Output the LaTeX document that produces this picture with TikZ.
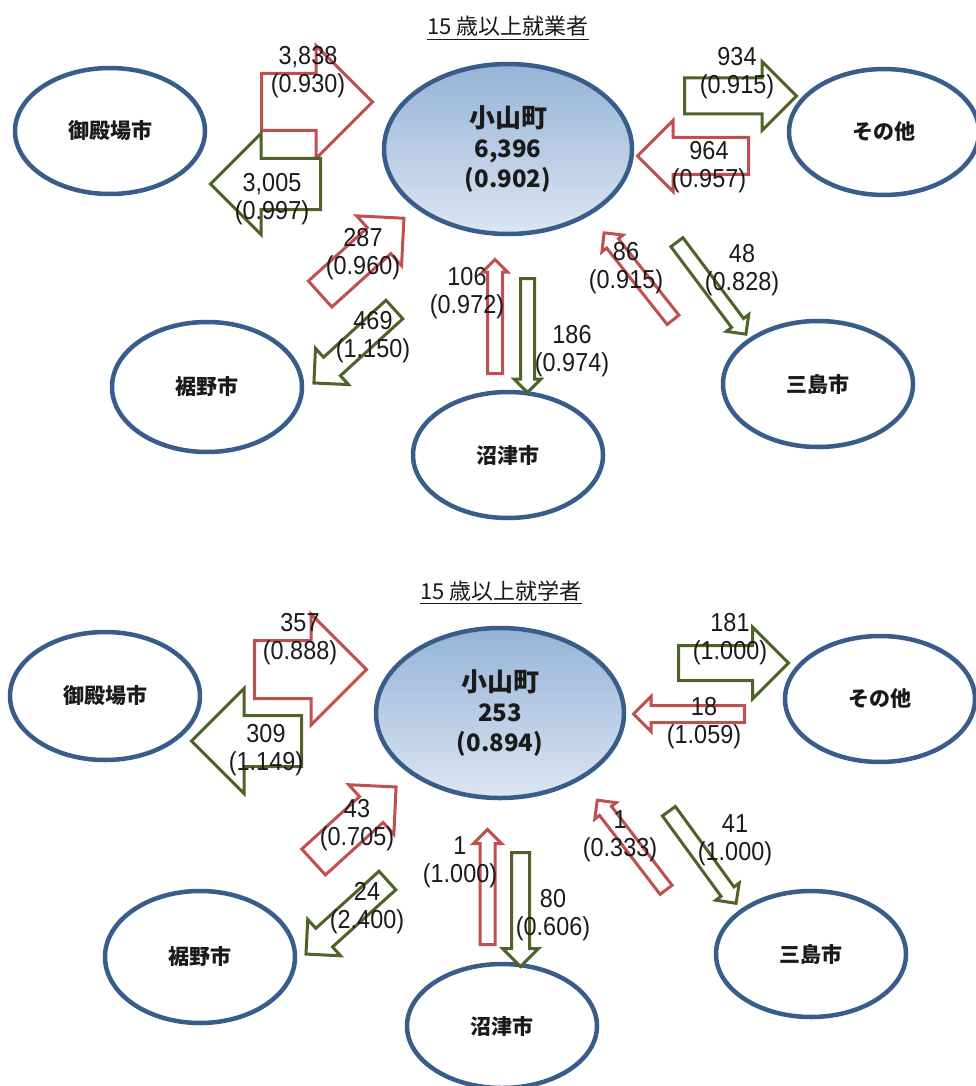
\documentclass[tikz,border=0pt]{standalone}
\usepackage{fontspec}
\usetikzlibrary{shapes.geometric,shapes.arrows}
\newfontfamily\jp{Noto Sans CJK JP}
\newfontfamily\numf{Liberation Sans}[FakeStretch=0.9]
\definecolor{ered}{HTML}{C0504D}
\definecolor{egreen}{HTML}{4F6228}
\definecolor{eblue}{HTML}{385D8A}
\definecolor{etop}{HTML}{95B3D7}
\definecolor{ebot}{HTML}{DCE6F2}
\definecolor{txt}{HTML}{1A1A1A}
\tikzset{
  city/.style={ellipse, draw=eblue, line width=4.5pt, fill=white, minimum width=190pt, minimum height=126pt, inner sep=0pt, font=\jp\bfseries\fontsize{21}{24}\selectfont, text=txt},
  hub/.style={ellipse, draw=eblue, line width=4.5pt, top color=etop, bottom color=ebot, minimum width=248pt, minimum height=170pt, inner sep=0pt, align=center, text=txt, font=\jp\bfseries\fontsize{24}{30}\selectfont},
  flow/.style={single arrow, fill=white, line width=3pt, inner xsep=0pt, anchor=tail, single arrow tip angle=90},
  inflow/.style={flow, draw=ered},
  outflow/.style={flow, draw=egreen},
  dims/.style n args={3}{minimum height=#1pt, single arrow head extend={(#2-#3)*1pt}, inner ysep=#3pt, minimum width={2*#2*1pt}},
  num/.style={align=center, font=\numf\fontsize{26}{28.5}\selectfont, text=txt, inner sep=0pt},
  ttl/.style={font=\jp\fontsize{22}{24}\selectfont, text=txt, inner xsep=0pt, anchor=base},
  uline/.style={line width=1.5pt, draw=txt}
}
\newcommand{\hubline}[1]{{\fontsize{26}{30}\selectfont #1}}
\begin{document}
\begin{tikzpicture}[x=1pt,y=-1pt]
\useasboundingbox[fill=white] (0,0) rectangle (976,1086);

% ===== upper diagram =====
\node[ttl] (t1) at (508,35) {15 歳以上就業者};
\draw[uline] ([yshift=-4.5pt]t1.base west) -- ([yshift=-4.5pt]t1.base east);

\node[city] (g1) at (110,131) {御殿場市};
\node[city] (s1) at (884,132) {その他};
\node[city, minimum height=130pt] (su1) at (207,387) {裾野市};
\node[city] (n1) at (508,455) {沼津市};
\node[city] (m1) at (818,384) {三島市};
\node[hub] (o1) at (508,149) {\hubline{小山町}\\6,396\\(0.902)};

% dims = {length}{head half width}{shaft half width}
\node[inflow, dims={111}{55}{27}] (a1) at (260,102) {};
\node[outflow, dims={110}{49}{24}, rotate=180] (a2) at (322,184) {};
\node[outflow, dims={112}{33}{16.5}] (a3) at (683,96) {};
\node[inflow, dims={111}{34}{17}, rotate=180] (a4) at (750,156) {};
\node[inflow, dims={113}{32}{16}, rotate=42.1] (a5) at (319,295) {};
\node[outflow, dims={109}{23}{11}, rotate=-137.6] (a6) at (395.5,308.5) {};
\node[inflow, dims={114}{11}{6}, rotate=90] (a7) at (495,375) {};
\node[outflow, dims={114}{12}{5.5}, rotate=-90] (a8) at (527.5,277) {};
\node[inflow, dims={111}{12}{6}, rotate=128.4] (a9) at (674,321) {};
\node[outflow, dims={115}{12.5}{6}, rotate=-53.1] (a10) at (676,241) {};

\node[num] (l1) at (308,72) {3,838\\(0.930)};
\node[num] (l2) at (272,199) {3,005\\(0.997)};
\node[num] (l3) at (737,73) {934\\(0.915)};
\node[num] (l4) at (709,167) {964\\(0.957)};
\node[num] (l5) at (363,254) {287\\(0.960)};
\node[num] (l6) at (373,337) {469\\(1.150)};
\node[num] (l7) at (467,293) {106\\(0.972)};
\node[num] (l8) at (572,351) {186\\(0.974)};
\node[num] (l9) at (626,268) {86\\(0.915)};
\node[num] (l10) at (742,270) {48\\(0.828)};

% ===== lower diagram =====
\node[ttl] (t2) at (501,599) {15 歳以上就学者};
\draw[uline] ([yshift=-4.5pt]t2.base west) -- ([yshift=-4.5pt]t2.base east);

\node[city, minimum height=128pt] (g2) at (105,696) {御殿場市};
\node[city] (s2) at (880,699) {その他};
\node[city, minimum height=132pt] (su2) at (200,957) {裾野市};
\node[city, minimum height=124pt] (n2) at (502,1026) {沼津市};
\node[city] (m2) at (811,954) {三島市};
\node[hub] (o2) at (500,713) {\hubline{小山町}\\253\\(0.894)};

\node[inflow, dims={112}{54}{27.5}] (b1) at (253,669.5) {};
\node[outflow, dims={110}{51}{24}, rotate=180] (b2) at (303,741) {};
\node[outflow, dims={110}{34.5}{16}] (b3) at (677,663) {};
\node[inflow, dims={111}{16}{7}, rotate=180] (b4) at (746,714) {};
\node[inflow, dims={111.5}{32}{16}, rotate=42.3] (b5) at (312.5,863) {};
\node[outflow, dims={109.7}{23}{11}, rotate=-137.9] (b6) at (388.5,879.5) {};
\node[inflow, dims={115}{12.5}{6}, rotate=90] (b7) at (487.5,946) {};
\node[outflow, dims={114}{16.5}{7.5}, rotate=-90] (b8) at (520.5,851) {};
\node[inflow, dims={113}{12}{6}, rotate=127.5] (b9) at (667,891) {};
\node[outflow, dims={114}{13}{6.5}, rotate=-53.9] (b10) at (668,810) {};

\node[num] (k1) at (300,639) {357\\(0.888)};
\node[num] (k2) at (266,750) {309\\(1.149)};
\node[num] (k3) at (730,639) {181\\(1.000)};
\node[num] (k4) at (704,723) {18\\(1.059)};
\node[num] (k5) at (357,825) {43\\(0.705)};
\node[num] (k6) at (367,908) {24\\(2.400)};
\node[num] (k7) at (460,862) {1\\(1.000)};
\node[num] (k8) at (553,915) {80\\(0.606)};
\node[num] (k9) at (620,836) {1\\(0.333)};
\node[num] (k10) at (735,840) {41\\(1.000)};
\end{tikzpicture}
\end{document}
